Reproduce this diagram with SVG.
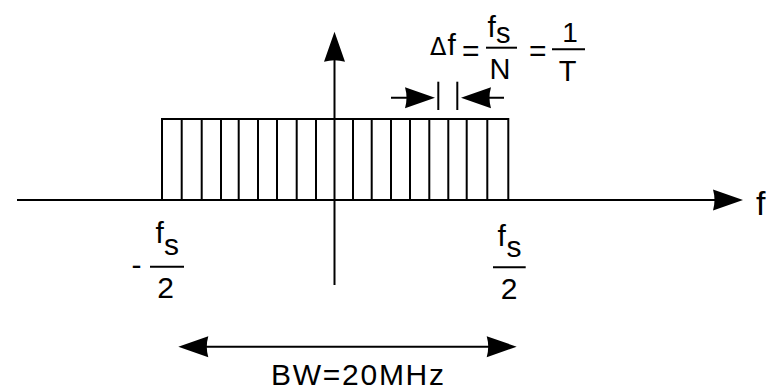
<svg xmlns="http://www.w3.org/2000/svg" width="773" height="391" viewBox="0 0 773 391">
<style>
  .ln{stroke:#000;stroke-width:2;fill:none}
  .t{font-family:"Liberation Sans",Arial,Helvetica,sans-serif;fill:#000;font-size:30px}
  .bar{stroke:#000;stroke-width:2}
</style>
<defs>
  <marker id="ah" markerUnits="userSpaceOnUse" markerWidth="34" markerHeight="24" refX="20" refY="10.5" orient="auto-start-reverse" overflow="visible">
    <path d="M30,10.5 L0,0 Q3,10.5 0,21 Z" fill="#000"/>
  </marker>
</defs>
<rect width="773" height="391" fill="#fff"/>

<g id="spectrum" class="ln">
  <rect x="162" y="119" width="346.3" height="81"/>
  <path d="M181.7,119V200 M201.7,119V200 M221,119V200 M238.7,119V200 M258,119V200 M277,119V200 M296.7,119V200 M316,119V200 M353,119V200 M371.7,119V200 M391,119V200 M410,119V200 M429.3,119V200 M448.3,119V200 M466.7,119V200 M487.3,119V200"/>
</g>

<g id="connectors" class="ln">
  <line id="f-axis" x1="17" y1="200" x2="733" y2="200" marker-end="url(#ah)"/>
  <line id="y-axis" x1="334.5" y1="285" x2="334.5" y2="41.7" marker-end="url(#ah)"/>
  <line id="bw-arrow" x1="188.3" y1="346.7" x2="506.7" y2="346.7" marker-start="url(#ah)" marker-end="url(#ah)"/>
  <line id="df-left" x1="391" y1="97.7" x2="425" y2="97.7" marker-end="url(#ah)"/>
  <line id="df-right" x1="504" y1="97.7" x2="471" y2="97.7" marker-end="url(#ah)"/>
  <line x1="438.3" y1="81.7" x2="438.3" y2="110"/>
  <line x1="457.3" y1="81.7" x2="457.3" y2="110"/>
</g>

<g id="label-f">
  <text class="t" x="756" y="215" style="font-size:34px">f</text>
</g>

<g id="label-df">
  <text class="t" x="430" y="55" style="font-size:24px;font-family:'DejaVu Sans',sans-serif">Δ</text>
  <text class="t" x="447.5" y="55" style="font-size:30px">f</text>
  <text class="t" x="462" y="61" style="font-size:30px">=</text>
  <text class="t" x="487.5" y="37">f</text>
  <text class="t" x="496" y="42.7" style="font-size:29px">s</text>
  <line class="bar" x1="486" y1="47.7" x2="517" y2="47.7"/>
  <text class="t" x="500" y="79" text-anchor="middle" style="font-size:29px">N</text>
  <text class="t" x="529" y="61" style="font-size:30px">=</text>
  <line class="bar" x1="552" y1="49.3" x2="585" y2="49.3"/>
  <text class="t" x="570" y="41.7" text-anchor="middle" style="font-size:28px">1</text>
  <text class="t" x="567.5" y="81" text-anchor="middle" style="font-size:29px">T</text>
</g>

<g id="label-neg-fs2">
  <text class="t" x="131.4" y="274.5">-</text>
  <text class="t" x="155.5" y="243.3">f</text>
  <text class="t" x="164" y="255">s</text>
  <line class="bar" x1="150" y1="266.7" x2="184" y2="266.7"/>
  <text class="t" x="165.5" y="298.3" text-anchor="middle">2</text>
</g>

<g id="label-fs2">
  <text class="t" x="497.5" y="246">f</text>
  <text class="t" x="506.5" y="257">s</text>
  <line class="bar" x1="493" y1="267.3" x2="525.7" y2="267.3"/>
  <text class="t" x="509" y="299" text-anchor="middle">2</text>
</g>

<g id="label-bw">
  <text class="t" x="271" y="385" textLength="173" lengthAdjust="spacing">BW=20MHz</text>
</g>
</svg>
